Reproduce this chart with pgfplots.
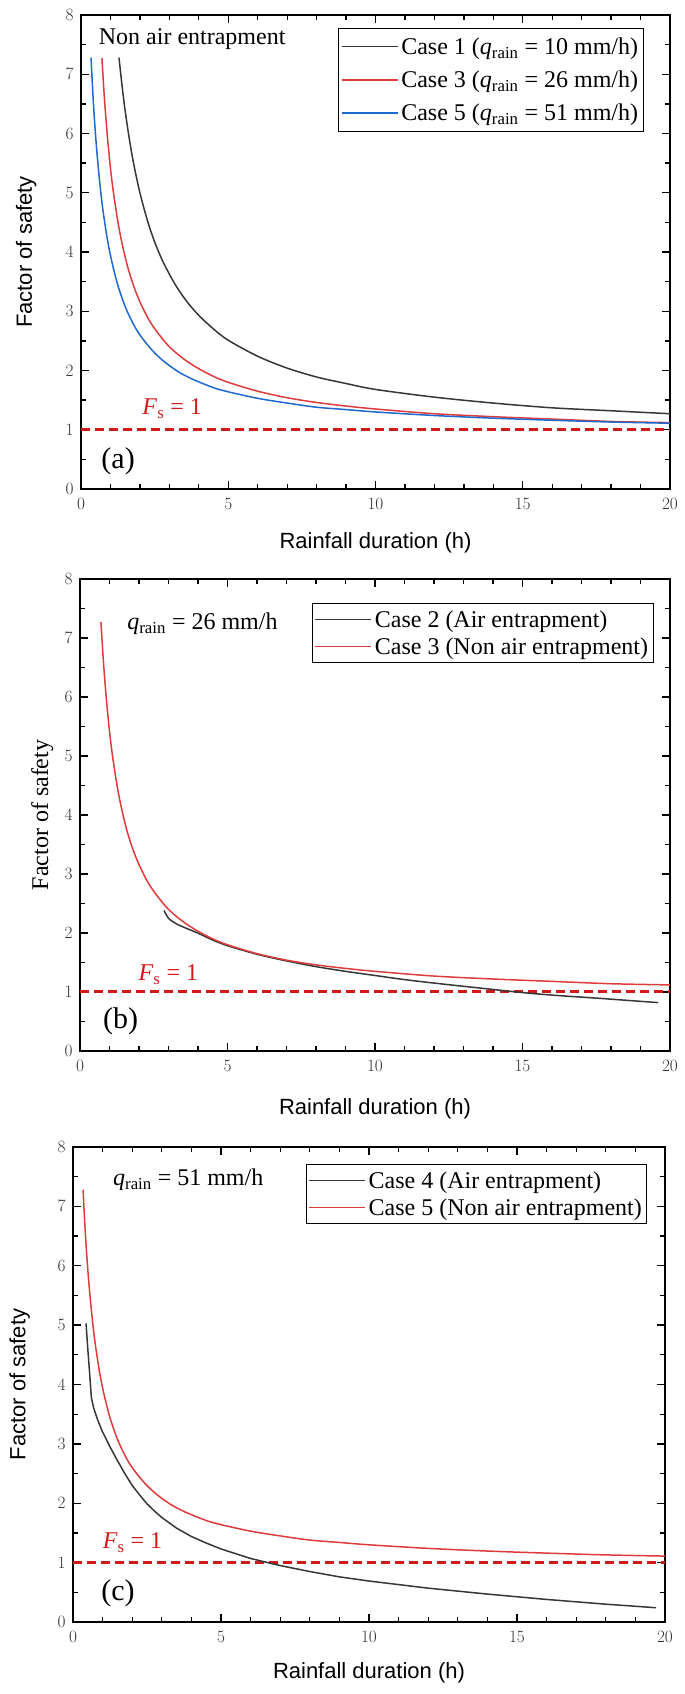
\documentclass[border=0pt]{standalone}
\usepackage{fontspec}
\setmainfont{Liberation Serif}
\newfontfamily\arialfont{Liberation Sans}
\usepackage{pgfplots}
\pgfplotsset{compat=1.18}

\definecolor{cblack}{RGB}{55,55,55}
\definecolor{cred}{RGB}{222,60,60}
\definecolor{cblue}{RGB}{30,105,205}
\definecolor{cdash}{RGB}{210,25,25}

\newcommand{\fsz}[1]{\fontsize{#1}{#1}\selectfont}

% factor of safety, non air entrapment (shared by panels)
\pgfplotstableread{
t F
0.71 7.27
0.8 6.56
0.9 5.93
1.0 5.42
1.1 5.01
1.25 4.52
1.4 4.13
1.6 3.72
1.8 3.41
2.0 3.16
2.3 2.86
2.6 2.64
3.0 2.40
3.5 2.19
4.0 2.03
4.5 1.90
5.0 1.80
6.0 1.65
7.0 1.54
8.0 1.46
9.0 1.40
10 1.35
12 1.27
14 1.22
16 1.18
18 1.14
20 1.12
}\caseiii
\pgfplotstableread{
t F
0.34 7.28
0.4 6.70
0.47 6.14
0.55 5.63
0.65 5.11
0.75 4.69
0.9 4.20
1.05 3.83
1.25 3.44
1.5 3.08
1.75 2.81
2.0 2.60
2.4 2.35
2.8 2.16
3.3 1.98
3.8 1.85
4.5 1.71
5.0 1.64
6.0 1.53
7.0 1.45
8.0 1.38
9.0 1.34
10 1.30
12 1.24
14 1.195
16 1.16
18 1.13
20 1.11
}\casev

\pgfplotsset{
  fsaxis/.style={
    scale only axis, width=589pt, height=474pt,
    xmin=0, xmax=20, ymin=0, ymax=8,
    xtick={0,5,...,20}, ytick={0,1,...,8},
    minor x tick num=4, minor y tick num=1,
    tick align=inside,
    major tick length=8pt, minor tick length=5pt,
    every tick/.style={black, line width=1.3pt},
    axis line style={line width=1.8pt},
    tick label style={font=\fsz{19}, text=black!80},
    xticklabel style={yshift=-6pt},
    yticklabel style={xshift=-4pt},
    label style={font=\fsz{22}},
    legend cell align=left,
    legend style={draw=black, line width=0.8pt, fill=white, font=\fsz{24},
      inner xsep=2pt, inner ysep=4pt, row sep=3pt,
      nodes={inner sep=3pt}},
    legend image code/.code={\draw[#1, line width=1.5pt] (0pt,0pt) -- (56pt,0pt);},
  },
  curve/.style={line width=1.5pt, smooth},
  fsline/.style={cdash, line width=3pt, dash pattern=on 9pt off 5pt, forget plot},
}

\begin{document}
\begin{tikzpicture}
\useasboundingbox (0,0) rectangle (685pt,1694pt);

% (a)
\begin{axis}[fsaxis, at={(81pt,1205pt)}, anchor=south west,
  xlabel={\arialfont Rainfall duration (h)},
  ylabel={\arialfont Factor of safety},
  xlabel style={at={(axis description cs:0.5,-0.114)}, anchor=center},
  ylabel style={at={(axis description cs:-0.093,0.5)}, anchor=center},
  legend style={at={(0.955,0.972)}, anchor=north east, row sep=9pt, inner ysep=6pt}]
\addplot[fsline] coordinates {(0,1) (20,1)};
\addplot[cblack, curve] coordinates {(1.29,7.28) (1.4,6.78) (1.5,6.38) (1.65,5.88) (1.8,5.46) (2.0,5.00) (2.25,4.54) (2.5,4.17) (2.8,3.82) (3.2,3.45) (3.6,3.16) (4.0,2.93) (4.5,2.70) (5.0,2.51) (6.0,2.24) (7.0,2.04) (8.0,1.89) (9.0,1.78) (10,1.68) (12,1.55) (14,1.45) (16,1.37) (18,1.32) (20,1.27)};
\addlegendentry{Case 1 (\textit{q}\textsubscript{rain} = 10 mm/h)}
\addplot[cred, curve] table {\caseiii};
\addlegendentry{Case 3 (\textit{q}\textsubscript{rain} = 26 mm/h)}
\addplot[cblue, curve] table {\casev};
\addlegendentry{Case 5 (\textit{q}\textsubscript{rain} = 51 mm/h)}
\node[anchor=west, inner sep=0pt, font=\fsz{24}] at (axis cs:0.6,7.6) {Non air entrapment};
\node[anchor=west, inner sep=0pt, font=\fsz{24}, text=cdash] at (axis cs:2.08,1.36) {\textit{F}\textsubscript{s} = 1};
\node[font=\fsz{30}] at (axis cs:1.26,0.47) {(a)};
\end{axis}

% (b)
\begin{axis}[fsaxis, at={(80pt,643pt)}, anchor=south west, width=590pt, height=472pt,
  xlabel={\arialfont Rainfall duration (h)},
  ylabel={Factor of safety},
  xlabel style={at={(axis description cs:0.5,-0.123)}, anchor=center},
  ylabel style={at={(axis description cs:-0.064,0.5)}, anchor=center, font=\fsz{24}},
  legend style={at={(0.972,0.949)}, anchor=north east}]
\addplot[fsline] coordinates {(0,1) (20,1)};
\addplot[cblack, curve] coordinates {(2.85,2.38) (3.0,2.25) (3.25,2.16) (3.6,2.08) (3.99,2.0) (4.5,1.88) (5.03,1.78) (6.0,1.64) (6.97,1.53) (8.0,1.43) (9.0,1.35) (10,1.28) (11,1.21) (12.2,1.14) (13.5,1.07) (15,0.99) (16.2,0.94) (17.4,0.9) (18.5,0.86) (19.6,0.82)};
\addlegendentry{Case 2 (Air entrapment)}
\addplot[cred, curve] table {\caseiii};
\addlegendentry{Case 3 (Non air entrapment)}
\node[anchor=west, inner sep=0pt, font=\fsz{24}] at (axis cs:1.6,7.24) {\textit{q}\textsubscript{rain} = 26 mm/h};
\node[anchor=west, inner sep=0pt, font=\fsz{24}, text=cdash] at (axis cs:1.98,1.29) {\textit{F}\textsubscript{s} = 1};
\node[font=\fsz{30}] at (axis cs:1.38,0.5) {(b)};
\end{axis}

% (c)
\begin{axis}[fsaxis, at={(73pt,72pt)}, anchor=south west, width=592pt, height=475pt,
  xlabel={\arialfont Rainfall duration (h)},
  ylabel={\arialfont Factor of safety},
  xlabel style={at={(axis description cs:0.5,-0.107)}, anchor=center},
  ylabel style={at={(axis description cs:-0.09,0.5)}, anchor=center},
  legend style={at={(0.97,0.964)}, anchor=north east}]
\addplot[fsline] coordinates {(0,1) (20,1)};
\addplot[cblack, line width=1.5pt] coordinates {(0.44,5.03) (0.5,4.6) (0.56,4.2) (0.62,3.78) (0.7,3.6) (0.8,3.45) (0.9,3.32) (1.0,3.2) (1.25,2.95) (1.5,2.72) (1.75,2.5) (2.0,2.3) (2.25,2.14) (2.5,1.99) (2.75,1.87) (3.0,1.76) (3.5,1.58) (4.0,1.44) (4.5,1.33) (5.0,1.23) (5.5,1.15) (6.0,1.07) (6.5,1.01) (7.0,0.95) (7.5,0.9) (8.0,0.85) (9.0,0.76) (10,0.69) (11,0.63) (12,0.57) (13,0.52) (14,0.47) (15,0.425) (16,0.38) (17,0.34) (18,0.30) (19,0.265) (19.7,0.24)};
\addlegendentry{Case 4 (Air entrapment)}
\addplot[cred, curve] table {\casev};
\addlegendentry{Case 5 (Non air entrapment)}
\node[anchor=west, inner sep=0pt, font=\fsz{24}] at (axis cs:1.35,7.45) {\textit{q}\textsubscript{rain} = 51 mm/h};
\node[anchor=west, inner sep=0pt, font=\fsz{24}, text=cdash] at (axis cs:1.0,1.34) {\textit{F}\textsubscript{s} = 1};
\node[font=\fsz{30}] at (axis cs:1.52,0.48) {(c)};
\end{axis}
\end{tikzpicture}
\end{document}
